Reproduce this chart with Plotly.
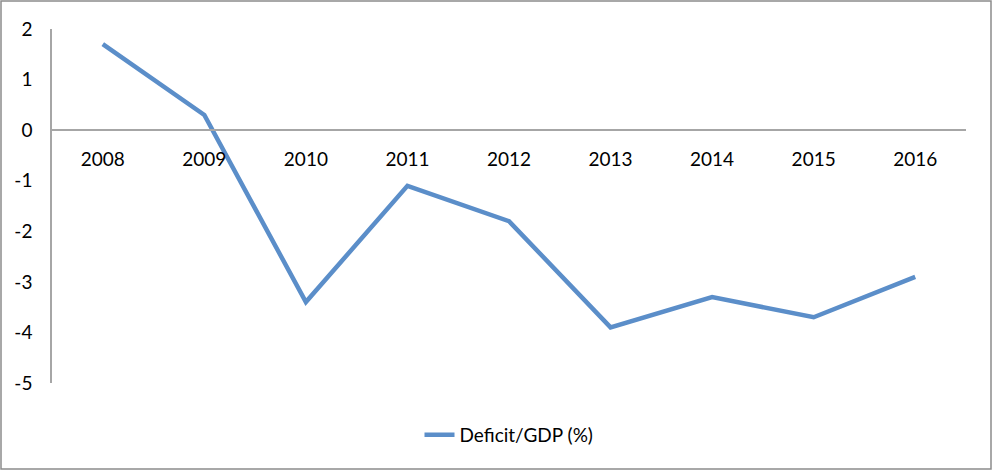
import plotly.graph_objects as go

years = ["2008", "2009", "2010", "2011", "2012", "2013", "2014", "2015", "2016"]
deficit = [1.7, 0.3, -3.4, -1.1, -1.8, -3.9, -3.3, -3.7, -2.9]
y_ticks = [2, 1, 0, -1, -2, -3, -4, -5]
series_name = "Deficit/GDP (%)"

W, H = 994, 471
ml, mr, mt, mb = 52, 28, 29, 88
ph = H - mt - mb
pw = W - ml - mr

fig = go.Figure()
fig.add_trace(go.Scatter(
    x=list(range(len(years))), y=deficit, mode="lines", name=series_name,
    line=dict(color="#5b8ec9", width=4.5),
    showlegend=True,
))

y_min, y_max = -5, 2
zero_frac = (0 - y_min) / (y_max - y_min)

fig.update_layout(
    template="none",
    width=W, height=H,
    margin=dict(l=ml, r=mr, t=mt, b=mb, autoexpand=False),
    paper_bgcolor="white", plot_bgcolor="white",
    font=dict(family="Lato, Liberation Sans, sans-serif", size=19, color="#000000"),
    xaxis=dict(
        range=[-0.5, len(years) - 0.5],
        tickmode="array", tickvals=list(range(len(years))), ticktext=years,
        showgrid=False, zeroline=False, automargin=False,
        showline=True, linecolor="#a6a6a6", linewidth=1.5,
        ticks="", anchor="free", position=zero_frac,
        ticklabelstandoff=12,
    ),
    yaxis=dict(
        range=[y_min, y_max],
        tickmode="array", tickvals=y_ticks, ticktext=[str(v) for v in y_ticks],
        showgrid=False, zeroline=False, automargin=False,
        showline=True, linecolor="#a6a6a6", linewidth=1.5,
        ticks="", ticklabelstandoff=14,
    ),
    legend=dict(
        orientation="h", x=0.5, xanchor="center", y=-52 / ph, yanchor="middle",
        font=dict(size=19), bgcolor="rgba(0,0,0,0)",
    ),
    shapes=[dict(
        type="rect", xref="paper", yref="paper",
        x0=(1 - ml) / pw, x1=(991 - ml) / pw,
        y0=(H - mb - 469) / ph, y1=(H - mb - 1) / ph,
        line=dict(color="#8c8c8c", width=1.5), fillcolor="rgba(0,0,0,0)",
        layer="below",
    )],
)

fig.write_html("out.html", config={"displayModeBar": False},
               post_script="document.body.style.margin='0px';")
